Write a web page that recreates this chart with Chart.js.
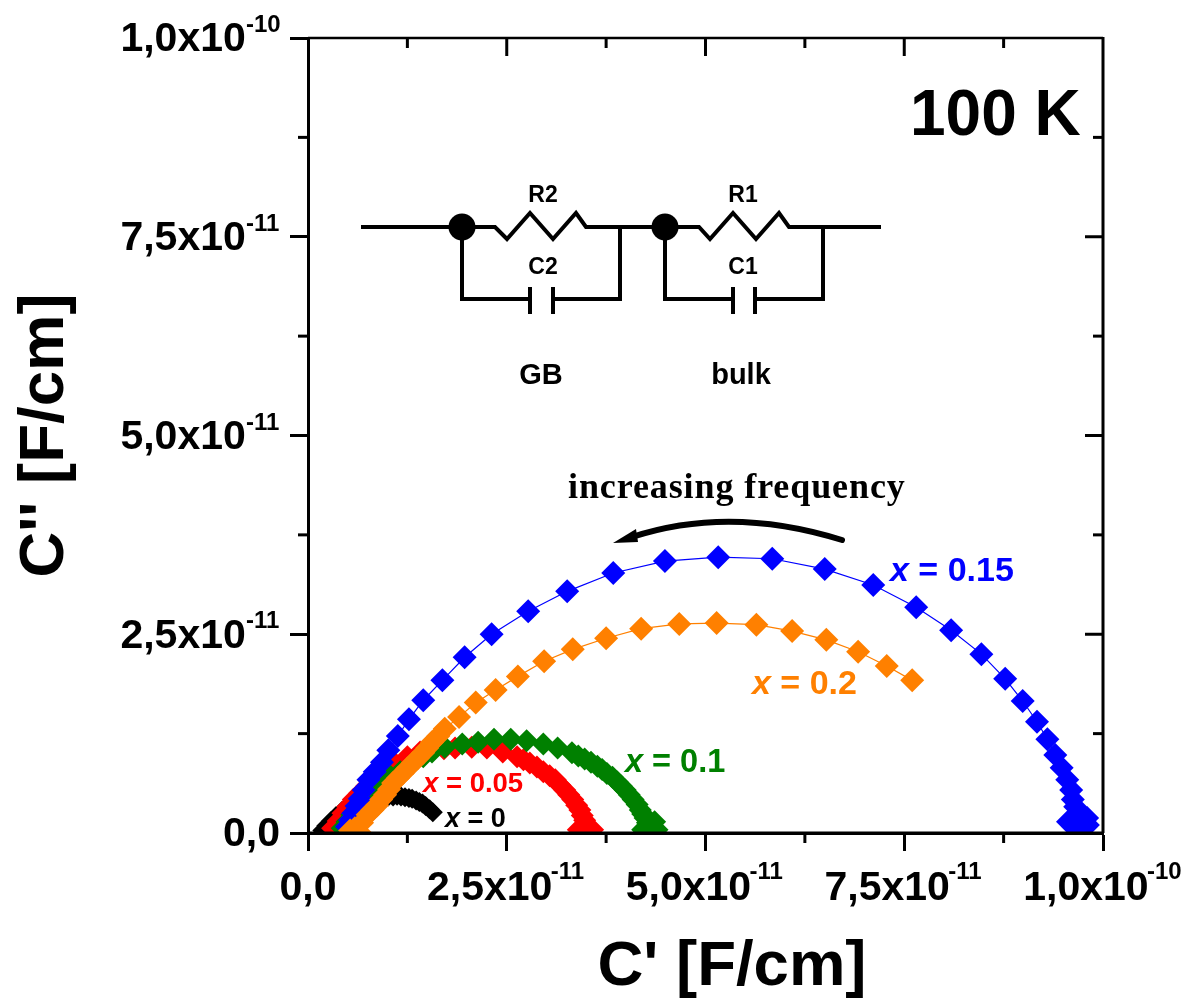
<!DOCTYPE html>
<html>
<head>
<meta charset="utf-8">
<style>
    html, body { margin: 0; padding: 0; background: #fff; }
    canvas { display: block; }
</style>
<script src="https://cdn.jsdelivr.net/npm/chart.js@4"></script>
</head>
<body>
<canvas id="chart" width="1193" height="1006"></canvas>
<script>
// all values in units of 1e-11 F/cm
const xTickLabels = ['0,0', '2,5x10   ', '5,0x10   ', '7,5x10   ', '1,0x10   '];
const yTickLabels = ['0,0', '2,5x10   ', '5,0x10   ', '7,5x10   ', '1,0x10   '];
const tickExponents = ['', '-11', '-11', '-11', '-10'];
const minorTicks = [1.25, 3.75, 6.25, 8.75];
const majorTicks = [2.5, 5, 7.5];

const x0Re = [0.18, 0.23, 0.29, 0.35, 0.43, 0.50, 0.59, 0.68, 0.78, 0.88, 0.95, 1.01, 1.07, 1.12, 1.17, 1.22, 1.27, 1.31, 1.36, 1.40, 1.44, 1.48, 1.53, 1.57];
const x0Im = [0.03, 0.09, 0.15, 0.21, 0.28, 0.33, 0.38, 0.42, 0.44, 0.45, 0.45, 0.46, 0.46, 0.47, 0.46, 0.45, 0.44, 0.43, 0.41, 0.39, 0.37, 0.34, 0.30, 0.26];

const x005Re = [0.31, 0.38, 0.44, 0.50, 0.57, 0.65, 0.74, 0.84, 0.94, 1.09, 1.25, 1.41, 1.57, 1.71, 1.85, 2.06, 2.25, 2.45, 2.63, 2.71, 2.79, 2.88, 2.96, 3.04, 3.11, 3.17, 3.23, 3.28, 3.33, 3.38, 3.42, 3.45, 3.48, 3.40, 3.55, 3.58];
const x005Im = [0.06, 0.15, 0.25, 0.33, 0.42, 0.50, 0.59, 0.69, 0.78, 0.88, 0.96, 1.02, 1.04, 1.06, 1.07, 1.08, 1.07, 1.02, 0.96, 0.92, 0.88, 0.83, 0.77, 0.72, 0.67, 0.60, 0.54, 0.48, 0.42, 0.35, 0.29, 0.22, 0.16, 0.04, 0.06, 0.04];

const x01Re = [0.43, 0.49, 0.55, 0.63, 0.72, 0.82, 0.92, 1.03, 1.16, 1.32, 1.45, 1.56, 1.72, 1.94, 2.14, 2.34, 2.55, 2.75, 2.96, 3.14, 3.32, 3.40, 3.48, 3.56, 3.64, 3.70, 3.76, 3.83, 3.89, 3.94, 3.99, 4.04, 4.09, 4.14, 4.18, 4.21, 4.24, 4.27, 4.30, 4.21, 4.36, 4.39];
const x01Im = [0.06, 0.14, 0.23, 0.31, 0.42, 0.52, 0.62, 0.72, 0.77, 0.88, 0.96, 1.02, 1.08, 1.12, 1.14, 1.18, 1.18, 1.16, 1.12, 1.07, 1.01, 0.97, 0.93, 0.89, 0.84, 0.80, 0.75, 0.70, 0.64, 0.59, 0.54, 0.48, 0.42, 0.36, 0.29, 0.24, 0.19, 0.13, 0.08, 0.04, 0.14, 0.04];

const x015Re = [0.49, 0.53, 0.57, 0.61, 0.65, 0.70, 0.76, 0.84, 0.93, 1.01, 1.13, 1.27, 1.45, 1.69, 1.97, 2.31, 2.77, 3.26, 3.84, 4.49, 5.16, 5.84, 6.50, 7.11, 7.65, 8.09, 8.47, 8.77, 8.99, 9.17, 9.30, 9.40, 9.48, 9.55, 9.60, 9.62, 9.65, 9.71, 9.80, 9.81, 9.67, 9.56];
const x015Im = [0.08, 0.16, 0.25, 0.34, 0.43, 0.54, 0.67, 0.77, 0.89, 1.04, 1.22, 1.43, 1.67, 1.92, 2.21, 2.50, 2.79, 3.04, 3.27, 3.42, 3.47, 3.45, 3.32, 3.12, 2.84, 2.55, 2.25, 1.94, 1.66, 1.40, 1.18, 0.98, 0.82, 0.67, 0.54, 0.42, 0.33, 0.25, 0.19, 0.10, 0.06, 0.14];

const x02Re = [0.53, 0.59, 0.65, 0.68, 0.75, 0.81, 0.87, 0.92, 0.97, 1.02, 1.07, 1.13, 1.19, 1.25, 1.32, 1.38, 1.45, 1.50, 1.56, 1.64, 1.72, 1.90, 2.11, 2.36, 2.64, 2.97, 3.33, 3.75, 4.19, 4.67, 5.14, 5.64, 6.09, 6.52, 6.92, 7.28, 7.60];
const x02Im = [0.03, 0.06, 0.01, 0.13, 0.23, 0.29, 0.35, 0.42, 0.48, 0.55, 0.63, 0.69, 0.75, 0.81, 0.88, 0.94, 1.01, 1.07, 1.14, 1.22, 1.31, 1.46, 1.64, 1.80, 1.97, 2.16, 2.31, 2.45, 2.57, 2.63, 2.64, 2.62, 2.54, 2.43, 2.28, 2.10, 1.92];

function toPoints(re, im) {
    return re.map((v, i) => ({ x: v, y: im[i] }));
}

function diamondSet(label, re, im, color, size, order) {
    return {
        label: label,
        data: toPoints(re, im),
        borderColor: color,
        backgroundColor: color,
        borderWidth: 1.2,
        pointStyle: 'rectRot',
        pointRadius: size,
        pointBorderWidth: 0,
        pointBackgroundColor: color,
        showLine: true,
        tension: 0,
        order: order
    };
}

function drawSegments(ctx, pts) {
    ctx.beginPath();
    pts.forEach((p, i) => i ? ctx.lineTo(p[0], p[1]) : ctx.moveTo(p[0], p[1]));
    ctx.stroke();
}

function labelX(ctx, left, base, value, size, color) {
    ctx.fillStyle = color;
    ctx.textAlign = 'left';
    ctx.textBaseline = 'alphabetic';
    ctx.font = 'italic bold ' + size + 'px "Liberation Sans"';
    ctx.fillText('x', left, base);
    const w = ctx.measureText('x').width;
    ctx.font = 'bold ' + size + 'px "Liberation Sans"';
    ctx.fillText(' = ' + value, left + w, base);
}

const framePlugin = {
    id: 'frame',
    afterDatasetsDraw(chart) {
        const ctx = chart.ctx;
        const xs = chart.scales.x, ys = chart.scales.y;
        const a = chart.chartArea;
        ctx.save();
        ctx.strokeStyle = '#000';
        ctx.lineCap = 'butt';

        // top and right edges
        ctx.lineWidth = 2.5;
        drawSegments(ctx, [[a.left, a.top], [a.right, a.top]]);
        ctx.lineWidth = 3;
        drawSegments(ctx, [[a.right, a.top - 1], [a.right, a.bottom]]);

        // bottom edge again, markers run up to it
        drawSegments(ctx, [[a.left, a.bottom], [a.right, a.bottom]]);

        // minor ticks outside, all ticks inside on top/right
        minorTicks.forEach(v => {
            const px = xs.getPixelForValue(v), py = ys.getPixelForValue(v);
            drawSegments(ctx, [[px, a.bottom], [px, a.bottom + 10]]);
            drawSegments(ctx, [[a.left, py], [a.left - 10, py]]);
            drawSegments(ctx, [[px, a.top], [px, a.top + 10]]);
            drawSegments(ctx, [[a.right, py], [a.right - 10, py]]);
        });
        majorTicks.forEach(v => {
            const px = xs.getPixelForValue(v), py = ys.getPixelForValue(v);
            drawSegments(ctx, [[px, a.top], [px, a.top + 18]]);
            drawSegments(ctx, [[a.right, py], [a.right - 18, py]]);
        });

        // tick label exponents
        ctx.fillStyle = '#000';
        ctx.font = 'bold 24px "Liberation Sans"';
        ctx.textBaseline = 'alphabetic';
        ctx.textAlign = 'left';
        tickExponents.forEach((e, i) => {
            if (!e) return;
            const v = i * 2.5;
            ctx.fillText(e, xs.getPixelForValue(v) + 44, 879);
            ctx.fillText(e, 246, ys.getPixelForValue(v) - 6);
        });

        // circuit
        ctx.lineWidth = 4;
        ctx.lineJoin = 'miter';
        drawSegments(ctx, [[361, 227], [495, 227], [507, 239], [530, 213], [553, 239], [576, 213], [586, 227],
            [699, 227], [710, 239], [733, 213], [756, 239], [779, 213], [789, 227], [881, 227]]);
        drawSegments(ctx, [[462, 227], [462, 299], [530, 299]]);
        drawSegments(ctx, [[530, 287], [530, 314]]);
        drawSegments(ctx, [[553, 287], [553, 314]]);
        drawSegments(ctx, [[553, 299], [620, 299], [620, 227]]);
        drawSegments(ctx, [[665, 227], [665, 299], [733, 299]]);
        drawSegments(ctx, [[733, 287], [733, 314]]);
        drawSegments(ctx, [[755, 287], [755, 314]]);
        drawSegments(ctx, [[755, 299], [823, 299], [823, 227]]);
        [462, 665].forEach(cx => {
            ctx.beginPath();
            ctx.arc(cx, 227, 13.5, 0, Math.PI * 2);
            ctx.fill();
        });
        ctx.textAlign = 'center';
        ctx.font = 'bold 23px "Liberation Sans"';
        ctx.fillText('R2', 543, 202);
        ctx.fillText('R1', 743, 202);
        ctx.fillText('C2', 543, 274);
        ctx.fillText('C1', 743, 274);
        ctx.font = 'bold 29px "Liberation Sans"';
        ctx.fillText('GB', 541, 384);
        ctx.fillText('bulk', 741, 384);

        // annotations
        ctx.textAlign = 'left';
        ctx.font = 'bold 64px "Liberation Sans"';
        ctx.fillText('100 K', 910, 135);
        ctx.font = 'bold 36px "Liberation Serif"';
        ctx.letterSpacing = '0.9px';
        ctx.fillText('increasing frequency', 568, 498);
        ctx.letterSpacing = '0px';

        // arrow
        ctx.lineWidth = 6;
        ctx.lineCap = 'round';
        ctx.beginPath();
        ctx.moveTo(842, 540);
        ctx.quadraticCurveTo(730, 505, 632, 537);
        ctx.stroke();
        ctx.beginPath();
        ctx.moveTo(613, 543);
        ctx.lineTo(636, 529);
        ctx.lineTo(638, 542);
        ctx.closePath();
        ctx.fill();

        labelX(ctx, 890, 581, '0.15', 34, '#0000ff');
        labelX(ctx, 752, 694, '0.2', 34, '#ff8000');
        labelX(ctx, 625, 772, '0.1', 32.5, '#008000');
        labelX(ctx, 423, 792, '0.05', 27.5, '#ff0000');
        labelX(ctx, 445, 827, '0', 27, '#000000');
        ctx.restore();
    }
};

function axisOptions(labels, title, extra) {
    return {
        type: 'linear',
        min: 0,
        max: 10,
        afterFit: extra.afterFit,
        border: { display: true, color: '#000', width: 3 },
        grid: { display: true, drawOnChartArea: false, drawTicks: true, tickLength: 18, tickWidth: 3, tickColor: '#000' },
        title: {
            display: true,
            text: title.text,
            color: '#000',
            font: { family: 'Liberation Sans', size: 63.5, weight: 'bold' },
            padding: title.padding
        },
        ticks: {
            stepSize: 2.5,
            autoSkip: false,
            maxRotation: 0,
            color: '#000',
            padding: extra.tickPadding,
            labelOffset: extra.labelOffset,
            font: { family: 'Liberation Sans', size: 41, weight: 'bold' },
            callback: (v, i) => labels[i]
        }
    };
}

new Chart(document.getElementById('chart').getContext('2d'), {
    type: 'scatter',
    data: {
        datasets: [
            diamondSet('x = 0', x0Re, x0Im, '#000000', 10, 5),
            diamondSet('x = 0.05', x005Re, x005Im, '#ff0000', 11.5, 4),
            diamondSet('x = 0.1', x01Re, x01Im, '#008000', 11.5, 3),
            diamondSet('x = 0.15', x015Re, x015Im, '#0000ff', 12, 2),
            diamondSet('x = 0.2', x02Re, x02Im, '#ff8000', 12, 1)
        ]
    },
    options: {
        responsive: false,
        animation: false,
        layout: { padding: { left: 0, top: 38, right: 90, bottom: 0 } },
        plugins: { legend: { display: false }, tooltip: { enabled: false } },
        scales: {
            x: axisOptions(xTickLabels, { text: '   C\' [F/cm]', padding: { top: 0, bottom: 0 } }, {
                tickPadding: 13,
                labelOffset: 0,
                afterFit: s => { s.height = 173; s.paddingLeft = 0; s.paddingRight = 0; }
            }),
            y: axisOptions(yTickLabels, { text: 'C\'\' [F/cm]', padding: { top: 7, bottom: 0 } }, {
                tickPadding: 10,
                labelOffset: 2,
                afterFit: s => { s.width = 308; s.paddingTop = 0; s.paddingBottom = 0; }
            })
        }
    },
    plugins: [framePlugin]
});
</script>
</body>
</html>
